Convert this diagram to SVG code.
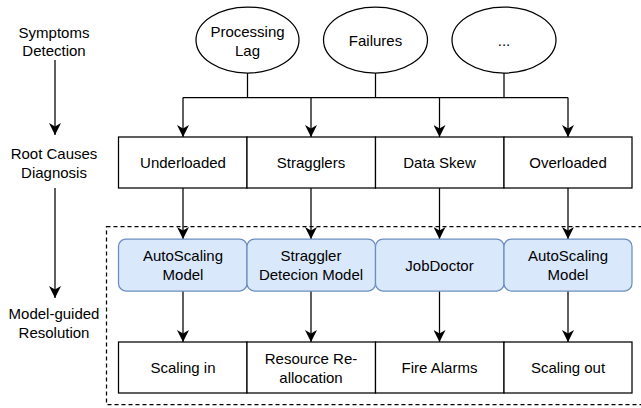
<svg xmlns="http://www.w3.org/2000/svg" width="641" height="408" viewBox="0 0 641 408">
<defs>
<marker id="arr" markerUnits="userSpaceOnUse" markerWidth="12" markerHeight="12" refX="10" refY="5" orient="auto" viewBox="0 0 10 10">
<path d="M0,0 L10,5 L0,10 L3,5 z" fill="#000"/>
</marker>
<style>
text{font-family:"Liberation Sans",Arial,sans-serif;font-size:15px;fill:#000;text-anchor:middle;dominant-baseline:central}
.box{fill:#fff;stroke:#000;stroke-width:1.25}
.model{fill:#dae8fc;stroke:#6c8ebf;stroke-width:1.25}
.ell{fill:#fff;stroke:#000;stroke-width:1.25}
.ln{fill:none;stroke:#000;stroke-width:1.25}
.ar{fill:none;stroke:#000;stroke-width:1.25;marker-end:url(#arr)}
</style>
</defs>
<rect width="641" height="408" fill="#fff"/>

<g id="container">
<rect x="106.5" y="226.5" width="540" height="178" fill="none" stroke="#000" stroke-width="1.25" stroke-dasharray="4 3"/>
</g>

<g id="stage-labels">
<text x="54" y="32">Symptoms</text>
<text x="54" y="50">Detection</text>
<text x="54" y="153">Root Causes</text>
<text x="54" y="172">Diagnosis</text>
<text x="54" y="313">Model-guided</text>
<text x="54" y="332">Resolution</text>
</g>

<g id="connectors">
<path class="ar" d="M55,60 V135"/>
<path class="ar" d="M55,188 V298"/>
<path class="ln" d="M247.5,73 V97.5 M375.5,73 V97.5 M504,73 V97.5 M183,97.5 H568"/>
<path class="ar" d="M183,97.5 V137"/>
<path class="ar" d="M311,97.5 V137"/>
<path class="ar" d="M439.5,97.5 V137"/>
<path class="ar" d="M568,97.5 V137"/>
<path class="ar" d="M183,188 V239"/>
<path class="ar" d="M311,188 V239"/>
<path class="ar" d="M439.5,188 V239"/>
<path class="ar" d="M568,188 V239"/>
<path class="ar" d="M183,291 V342"/>
<path class="ar" d="M311,291 V342"/>
<path class="ar" d="M439.5,291 V342"/>
<path class="ar" d="M568,291 V342"/>
</g>

<g id="processing-lag">
<ellipse class="ell" cx="247.5" cy="40" rx="51.5" ry="33"/>
<text x="247.5" y="31.5">Processing</text>
<text x="247.5" y="50.5">Lag</text>
</g>
<g id="failures">
<ellipse class="ell" cx="375.5" cy="40" rx="52" ry="33"/>
<text x="375.5" y="40">Failures</text>
</g>
<g id="more">
<ellipse class="ell" cx="504" cy="40" rx="52" ry="33"/>
<text x="504" y="40">...</text>
</g>

<g id="underloaded">
<rect class="box" x="118.5" y="137" width="128.5" height="51"/>
<text x="183" y="162">Underloaded</text>
</g>
<g id="stragglers">
<rect class="box" x="247" y="137" width="128.5" height="51"/>
<text x="311" y="162">Stragglers</text>
</g>
<g id="data-skew">
<rect class="box" x="375.5" y="137" width="128.5" height="51"/>
<text x="439.5" y="162">Data Skew</text>
</g>
<g id="overloaded">
<rect class="box" x="504" y="137" width="128" height="51"/>
<text x="568" y="162">Overloaded</text>
</g>

<g id="autoscaling-in">
<rect class="model" x="118.5" y="239" width="128.5" height="52" rx="7.5"/>
<text x="183" y="255.5">AutoScaling</text>
<text x="183" y="274.5">Model</text>
</g>
<g id="straggler-model">
<rect class="model" x="247" y="239" width="128.5" height="52" rx="7.5"/>
<text x="311" y="255.5">Straggler</text>
<text x="311" y="274.5">Detecion Model</text>
</g>
<g id="jobdoctor">
<rect class="model" x="375.5" y="239" width="128.5" height="52" rx="7.5"/>
<text x="439.5" y="265">JobDoctor</text>
</g>
<g id="autoscaling-out">
<rect class="model" x="504" y="239" width="128" height="52" rx="7.5"/>
<text x="568" y="255.5">AutoScaling</text>
<text x="568" y="274.5">Model</text>
</g>

<g id="scaling-in">
<rect class="box" x="118.5" y="342" width="128.5" height="51"/>
<text x="183" y="367.5">Scaling in</text>
</g>
<g id="reallocation">
<rect class="box" x="247" y="342" width="128.5" height="51"/>
<text x="311" y="358">Resource Re-</text>
<text x="311" y="377">allocation</text>
</g>
<g id="fire-alarms">
<rect class="box" x="375.5" y="342" width="128.5" height="51"/>
<text x="439.5" y="367.5">Fire Alarms</text>
</g>
<g id="scaling-out">
<rect class="box" x="504" y="342" width="128" height="51"/>
<text x="568" y="367.5">Scaling out</text>
</g>
</svg>
